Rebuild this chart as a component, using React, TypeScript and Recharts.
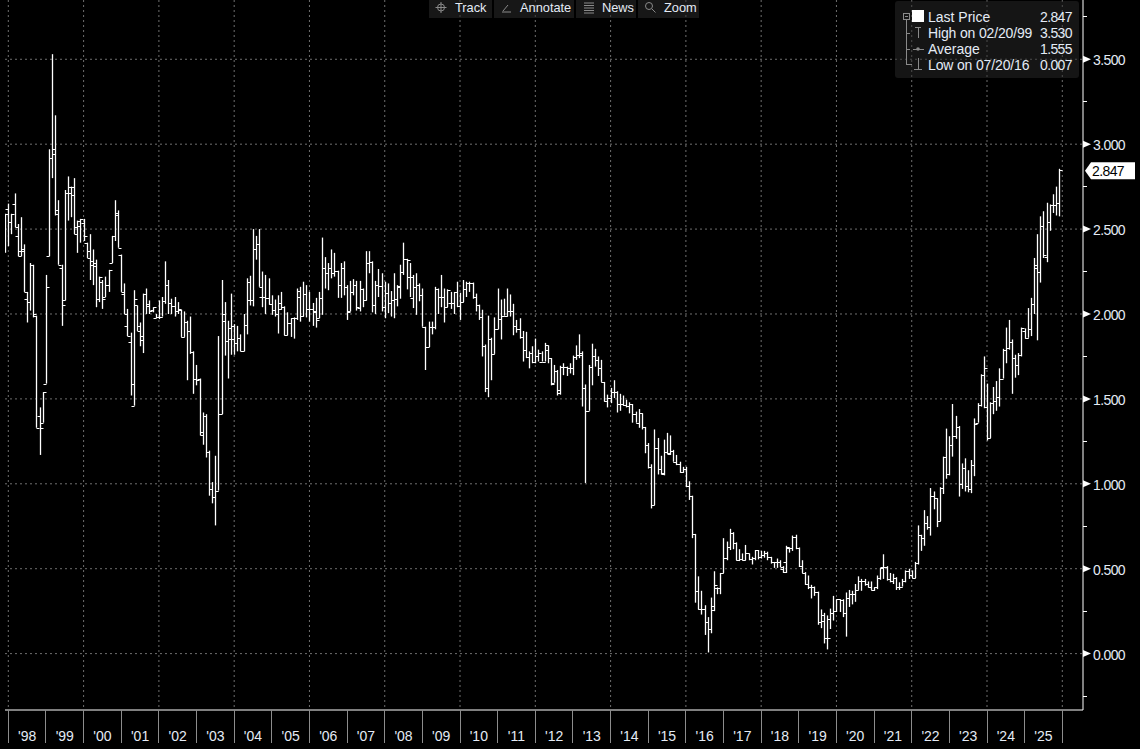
import { Bar, CartesianGrid, ComposedChart, XAxis, YAxis } from 'recharts';

// monthly OHLC, Nov '97 to Nov '25
const highs = [
  2.59, 2.65, 2.59, 2.71, 2.53, 2.57, 2.41, 2.13, 2.30, 2.29,
  1.99, 1.45, 1.54, 2.23, 2.97, 3.53, 3.17, 2.67, 2.29, 2.73,
  2.81, 2.75, 2.80, 2.55, 2.56, 2.56, 2.42, 2.47, 2.38, 2.32,
  2.22, 2.20, 2.22, 2.26, 2.46, 2.67, 2.61, 2.35, 2.18, 2.03,
  1.89, 2.14, 2.05, 1.95, 2.12, 2.15, 2.08, 2.04, 2.00, 2.08,
  2.10, 2.31, 2.20, 2.09, 2.10, 2.07, 2.025, 2.015, 1.96, 1.985,
  1.78, 1.70, 1.62, 1.42, 1.41, 1.195, 1.01, 1.165, 1.87, 2.20,
  2.07, 1.96, 2.12, 1.94, 1.93, 1.88, 2.00, 2.21, 2.225, 2.50,
  2.46, 2.50, 2.25, 2.23, 2.21, 2.11, 2.085, 2.11, 2.13, 2.045,
  2.01, 1.975, 1.98, 2.15, 2.16, 2.19, 2.17, 2.13, 2.065, 2.095,
  2.13, 2.45, 2.335, 2.30, 2.38, 2.36, 2.255, 2.30, 2.31, 2.17,
  2.195, 2.205, 2.195, 2.195, 2.15, 2.37, 2.37, 2.31, 2.195, 2.265,
  2.24, 2.19, 2.18, 2.135, 2.24, 2.17, 2.29, 2.42, 2.325, 2.30,
  2.23, 2.24, 2.18, 2.15, 1.925, 1.955, 1.955, 2.16, 2.15, 2.23,
  2.15, 2.145, 2.13, 2.13, 2.19, 2.125, 2.20, 2.19, 2.19, 2.185,
  2.12, 2.055, 2.025, 1.82, 1.99, 1.86, 1.98, 2.15, 2.085, 2.09,
  2.15, 2.115, 2.06, 1.965, 1.975, 1.90, 1.895, 1.78, 1.81, 1.855,
  1.79, 1.78, 1.83, 1.815, 1.74, 1.70, 1.67, 1.695, 1.71, 1.69,
  1.71, 1.755, 1.815, 1.88, 1.78, 1.585, 1.70, 1.825, 1.795, 1.75,
  1.73, 1.60, 1.525, 1.565, 1.61, 1.545, 1.53, 1.52, 1.495, 1.48,
  1.47, 1.425, 1.44, 1.415, 1.335, 1.24, 1.115, 1.32, 1.27, 1.165,
  1.26, 1.30, 1.285, 1.20, 1.17, 1.13, 1.10, 1.10, 1.015, 0.93,
  0.705, 0.455, 0.37, 0.285, 0.215, 0.33, 0.485, 0.39, 0.475, 0.68,
  0.66, 0.735, 0.715, 0.655, 0.615, 0.59, 0.64, 0.59, 0.57, 0.61,
  0.61, 0.605, 0.605, 0.60, 0.57, 0.54, 0.56, 0.55, 0.515, 0.635,
  0.625, 0.695, 0.70, 0.625, 0.55, 0.48, 0.46, 0.405, 0.395, 0.365,
  0.26, 0.24, 0.225, 0.265, 0.34, 0.32, 0.32, 0.32, 0.36, 0.375,
  0.37, 0.41, 0.455, 0.44, 0.44, 0.425, 0.425, 0.39, 0.46, 0.505,
  0.585, 0.515, 0.475, 0.47, 0.45, 0.42, 0.44, 0.49, 0.50, 0.49,
  0.54, 0.755, 0.70, 0.845, 0.81, 0.975, 0.955, 0.915, 0.98, 1.16,
  1.325, 1.28, 1.47, 1.40, 1.34, 1.12, 1.15, 1.08, 1.14, 1.385,
  1.475, 1.645, 1.75, 1.59, 1.48, 1.57, 1.605, 1.68, 1.795, 1.92,
  1.965, 1.85, 1.76, 1.77, 1.92, 1.915, 2.035, 2.095, 2.33, 2.47,
  2.575, 2.605, 2.655, 2.645, 2.705, 2.75, 2.855,
];

const lows = [
  2.36, 2.40, 2.47, 2.51, 2.34, 2.34, 2.13, 1.95, 2.02, 1.98,
  1.33, 1.17, 1.36, 1.59, 2.34, 2.80, 2.58, 2.29, 1.93, 2.08,
  2.55, 2.57, 2.47, 2.36, 2.42, 2.43, 2.33, 2.20, 2.17, 2.04,
  2.07, 2.03, 2.10, 2.13, 2.30, 2.43, 2.39, 2.13, 2.00, 1.87,
  1.52, 1.46, 1.90, 1.81, 1.77, 2.00, 2.00, 2.01, 1.975, 1.97,
  1.985, 2.06, 2.00, 2.00, 1.985, 2.00, 1.865, 1.865, 1.61, 1.765,
  1.53, 1.58, 1.285, 1.23, 1.155, 0.93, 0.885, 0.755, 0.96, 1.41,
  1.755, 1.62, 1.76, 1.76, 1.78, 1.78, 1.78, 1.88, 2.05, 2.045,
  2.32, 2.16, 2.04, 2.00, 2.055, 1.995, 1.985, 1.885, 2.025, 1.875,
  1.875, 1.865, 1.855, 1.965, 1.955, 1.985, 1.98, 1.955, 1.93, 1.92,
  1.975, 1.995, 2.15, 2.14, 2.21, 2.22, 2.095, 2.095, 2.11, 1.965,
  2.015, 2.11, 2.02, 2.015, 2.04, 2.08, 2.24, 2.01, 2.00, 2.10,
  2.015, 1.975, 2.005, 1.985, 1.975, 2.045, 2.09, 2.23, 2.145, 2.10,
  2.035, 1.995, 2.075, 1.925, 1.67, 1.805, 1.88, 1.91, 2.00, 2.04,
  1.95, 2.04, 2.03, 2.00, 2.04, 1.965, 2.07, 2.10, 2.13, 2.09,
  2.015, 1.965, 1.75, 1.54, 1.51, 1.61, 1.765, 1.91, 1.85, 1.99,
  1.985, 1.985, 1.875, 1.89, 1.855, 1.72, 1.74, 1.68, 1.71, 1.71,
  1.72, 1.72, 1.72, 1.71, 1.58, 1.595, 1.52, 1.525, 1.64, 1.635,
  1.65, 1.64, 1.73, 1.74, 1.455, 1.005, 1.43, 1.58, 1.69, 1.635,
  1.60, 1.485, 1.45, 1.475, 1.505, 1.42, 1.43, 1.46, 1.45, 1.415,
  1.36, 1.36, 1.33, 1.32, 1.18, 1.09, 0.855, 0.875, 1.055, 1.055,
  1.05, 1.175, 1.17, 1.13, 1.11, 1.065, 1.065, 0.98, 0.905, 0.68,
  0.30, 0.26, 0.23, 0.11, 0.007, 0.12, 0.25, 0.35, 0.35, 0.475,
  0.55, 0.61, 0.615, 0.55, 0.545, 0.55, 0.55, 0.55, 0.525, 0.55,
  0.555, 0.56, 0.565, 0.55, 0.53, 0.505, 0.505, 0.51, 0.475, 0.475,
  0.595, 0.605, 0.615, 0.51, 0.475, 0.405, 0.38, 0.325, 0.34, 0.17,
  0.15, 0.06, 0.025, 0.145, 0.195, 0.245, 0.245, 0.215, 0.10, 0.275,
  0.29, 0.305, 0.375, 0.37, 0.40, 0.39, 0.375, 0.37, 0.38, 0.435,
  0.44, 0.43, 0.42, 0.41, 0.375, 0.375, 0.395, 0.42, 0.44, 0.445,
  0.445, 0.525, 0.605, 0.635, 0.73, 0.695, 0.85, 0.745, 0.78, 0.94,
  1.03, 1.05, 1.16, 1.265, 0.925, 0.97, 0.955, 0.95, 0.945, 1.045,
  1.36, 1.455, 1.445, 1.255, 1.27, 1.41, 1.43, 1.455, 1.62, 1.71,
  1.79, 1.53, 1.625, 1.64, 1.75, 1.855, 1.86, 1.87, 2.00, 1.845,
  2.185, 2.33, 2.305, 2.49, 2.595, 2.58, 2.575,
];

const opens = [
  2.50, 2.62, 2.54, 2.65, 2.46, 2.34, 2.37, 2.09, 2.07, 2.29,
  1.99, 1.40, 1.36, 1.59, 2.34, 2.92, 2.94, 2.61, 2.27, 2.08,
  2.71, 2.71, 2.75, 2.51, 2.52, 2.535, 2.42, 2.33, 2.31, 2.30,
  2.09, 2.19, 2.10, 2.17, 2.30, 2.46, 2.585, 2.35, 2.12, 1.93,
  1.835, 1.46, 2.05, 1.93, 1.87, 2.12, 2.045, 2.025, 1.975, 1.98,
  1.985, 2.075, 2.17, 2.065, 2.045, 2.02, 2.025, 1.865, 1.955, 1.90,
  1.775, 1.62, 1.62, 1.305, 1.40, 1.19, 0.97, 0.92, 0.96, 1.41,
  1.96, 1.84, 1.85, 1.85, 1.83, 1.86, 1.78, 1.935, 2.08, 2.08,
  2.38, 2.41, 2.10, 2.10, 2.095, 2.06, 2.025, 2.00, 2.03, 2.04,
  1.875, 1.945, 1.975, 1.975, 2.135, 1.99, 2.12, 2.03, 2.03, 2.01,
  1.975, 2.095, 2.27, 2.24, 2.27, 2.24, 2.255, 2.17, 2.27, 2.16,
  2.015, 2.13, 2.17, 2.035, 2.15, 2.08, 2.30, 2.305, 2.055, 2.17,
  2.165, 2.04, 2.125, 2.065, 2.085, 2.09, 2.16, 2.25, 2.325, 2.22,
  2.095, 2.16, 2.17, 2.11, 1.925, 1.805, 1.925, 1.925, 2.15, 2.10,
  2.10, 2.04, 2.065, 2.065, 2.13, 2.045, 2.07, 2.15, 2.18, 2.18,
  2.10, 2.055, 1.98, 1.81, 1.565, 1.855, 1.765, 1.91, 1.97, 1.99,
  1.99, 2.02, 2.015, 1.93, 1.91, 1.865, 1.79, 1.745, 1.77, 1.72,
  1.755, 1.72, 1.72, 1.815, 1.74, 1.595, 1.665, 1.555, 1.685, 1.685,
  1.68, 1.68, 1.745, 1.76, 1.77, 1.565, 1.43, 1.69, 1.755, 1.73,
  1.68, 1.60, 1.49, 1.505, 1.54, 1.54, 1.47, 1.47, 1.465, 1.46,
  1.47, 1.41, 1.36, 1.415, 1.335, 1.23, 1.10, 0.875, 1.21, 1.09,
  1.06, 1.185, 1.175, 1.195, 1.13, 1.115, 1.07, 1.09, 0.985, 0.93,
  0.705, 0.37, 0.26, 0.265, 0.185, 0.145, 0.28, 0.385, 0.385, 0.475,
  0.565, 0.63, 0.71, 0.65, 0.55, 0.555, 0.55, 0.59, 0.56, 0.565,
  0.61, 0.57, 0.58, 0.595, 0.57, 0.54, 0.54, 0.54, 0.50, 0.54,
  0.62, 0.62, 0.685, 0.62, 0.515, 0.475, 0.41, 0.39, 0.39, 0.365,
  0.185, 0.23, 0.09, 0.205, 0.24, 0.25, 0.32, 0.315, 0.24, 0.33,
  0.35, 0.35, 0.375, 0.425, 0.425, 0.41, 0.395, 0.375, 0.39, 0.445,
  0.51, 0.51, 0.44, 0.43, 0.445, 0.395, 0.395, 0.43, 0.485, 0.465,
  0.445, 0.535, 0.70, 0.68, 0.77, 0.745, 0.93, 0.915, 0.78, 0.975,
  1.16, 1.06, 1.23, 1.28, 1.335, 1.00, 1.095, 0.985, 0.97, 1.11,
  1.36, 1.465, 1.64, 1.455, 1.27, 1.475, 1.49, 1.51, 1.62, 1.79,
  1.80, 1.835, 1.74, 1.70, 1.76, 1.90, 1.86, 1.91, 2.06, 2.27,
  2.25, 2.52, 2.335, 2.54, 2.64, 2.64, 2.655,
];

const closes = [
  2.59, 2.54, 2.59, 2.51, 2.37, 2.38, 2.13, 2.07, 2.29, 2.00,
  1.33, 1.33, 1.54, 2.16, 2.92, 2.97, 2.59, 2.29, 2.05, 2.71,
  2.75, 2.70, 2.47, 2.55, 2.56, 2.46, 2.37, 2.29, 2.28, 2.09,
  2.22, 2.09, 2.17, 2.26, 2.46, 2.595, 2.39, 2.13, 2.00, 1.87,
  1.59, 2.09, 1.90, 1.845, 2.12, 2.06, 2.02, 2.04, 1.985, 1.98,
  2.075, 2.17, 2.065, 2.045, 2.02, 2.03, 1.865, 1.955, 1.90, 1.775,
  1.62, 1.61, 1.29, 1.40, 1.19, 0.97, 0.92, 0.96, 1.41, 2.00,
  1.84, 1.92, 1.93, 1.83, 1.86, 1.78, 1.935, 2.19, 2.08, 2.38,
  2.41, 2.16, 2.10, 2.095, 2.06, 2.025, 2.00, 2.065, 2.04, 1.875,
  1.945, 1.975, 1.975, 2.10, 1.99, 2.12, 2.03, 2.03, 2.015, 1.965,
  2.095, 2.27, 2.24, 2.27, 2.24, 2.255, 2.17, 2.27, 2.16, 2.01,
  2.13, 2.17, 2.04, 2.15, 2.08, 2.30, 2.305, 2.055, 2.17, 2.165,
  2.04, 2.125, 2.065, 2.085, 2.09, 2.165, 2.25, 2.325, 2.315, 2.22,
  2.16, 2.17, 2.11, 1.925, 1.805, 1.925, 1.925, 2.15, 2.10, 2.10,
  2.04, 2.14, 2.065, 2.13, 2.045, 2.07, 2.15, 2.18, 2.18, 2.10,
  2.055, 1.98, 1.81, 1.565, 1.855, 1.765, 1.91, 1.97, 1.99, 1.99,
  2.02, 2.015, 1.93, 1.91, 1.865, 1.79, 1.745, 1.77, 1.72, 1.755,
  1.77, 1.72, 1.79, 1.74, 1.59, 1.665, 1.535, 1.685, 1.685, 1.68,
  1.68, 1.745, 1.76, 1.76, 1.565, 1.43, 1.69, 1.755, 1.73, 1.68,
  1.60, 1.49, 1.505, 1.54, 1.54, 1.47, 1.47, 1.465, 1.46, 1.47,
  1.41, 1.36, 1.415, 1.335, 1.23, 1.10, 0.875, 1.21, 1.09, 1.065,
  1.185, 1.18, 1.195, 1.13, 1.115, 1.07, 1.09, 0.985, 0.93, 0.705,
  0.37, 0.26, 0.265, 0.185, 0.145, 0.255, 0.405, 0.385, 0.475, 0.565,
  0.63, 0.71, 0.65, 0.55, 0.555, 0.55, 0.59, 0.56, 0.565, 0.61,
  0.57, 0.58, 0.595, 0.57, 0.54, 0.54, 0.54, 0.51, 0.48, 0.625,
  0.62, 0.685, 0.62, 0.515, 0.475, 0.41, 0.39, 0.39, 0.365, 0.185,
  0.195, 0.09, 0.09, 0.24, 0.25, 0.32, 0.315, 0.24, 0.33, 0.35,
  0.35, 0.375, 0.425, 0.425, 0.41, 0.395, 0.375, 0.39, 0.445, 0.505,
  0.51, 0.44, 0.43, 0.445, 0.395, 0.395, 0.43, 0.485, 0.465, 0.445,
  0.535, 0.70, 0.68, 0.77, 0.745, 0.93, 0.915, 0.78, 0.975, 1.16,
  1.06, 1.23, 1.28, 1.335, 1.00, 1.095, 0.985, 0.97, 1.11, 1.355,
  1.465, 1.64, 1.68, 1.27, 1.475, 1.49, 1.51, 1.615, 1.79, 1.80,
  1.835, 1.74, 1.70, 1.76, 1.915, 1.86, 1.91, 2.06, 2.29, 2.25,
  2.52, 2.35, 2.54, 2.64, 2.64, 2.655, 2.847,
];

const yearLabels = [
  "'98", "'99", "'00", "'01", "'02", "'03", "'04", "'05", "'06", "'07",
  "'08", "'09", "'10", "'11", "'12", "'13", "'14", "'15", "'16", "'17",
  "'18", "'19", "'20", "'21", "'22", "'23", "'24", "'25",
];

// month index of each January boundary, one more than there are labels
const yearTicks = [...yearLabels, ''].map((_, k) => 1 + 12 * k);
const priceTicks = [-0.25, 0, 0.25, 0.5, 0.75, 1, 1.25, 1.5, 1.75, 2, 2.25, 2.5, 2.75, 3, 3.25, 3.5, 3.75];
const lastPrice = 2.847;

const legendRows = [
  ['Last Price', '2.847'],
  ['High on 02/20/99', '3.530'],
  ['Average', '1.555'],
  ['Low on 07/20/16', '0.007'],
];

const toolbarButtons = [
  { label: 'Track', x: 429, w: 63, tx: 455 },
  { label: 'Annotate', x: 494, w: 80, tx: 520 },
  { label: 'News', x: 576, w: 60, tx: 602 },
  { label: 'Zoom', x: 638, w: 61, tx: 664 },
];

const data = highs.map((high, i) => ({
  i,
  range: [lows[i], high],
  high,
  low: lows[i],
  open: opens[i],
  close: closes[i],
}));

const FONT = '"Liberation Sans", Arial, sans-serif';
const TEXT = '#e4ebf5';
const GRID = '#6f6f6f';

// one OHLC mark: stem from high to low, open to the left, close to the right
function OhlcBar(props: any) {
  const { x, y, width, height, payload } = props;
  const top = height < 0 ? y + height : y;
  const h = Math.abs(height);
  const cx = Math.round(x + width / 2) + 0.5;
  const perUnit = h / (payload.high - payload.low);
  const yOpen = Math.round(top + (payload.high - payload.open) * perUnit) + 0.5;
  const yClose = Math.round(top + (payload.high - payload.close) * perUnit) + 0.5;
  return (
    <g stroke="#ffffff">
      <line x1={cx} x2={cx} y1={top} y2={top + h} strokeWidth={1.3} />
      <line x1={cx - 3} x2={cx} y1={yOpen} y2={yOpen} strokeWidth={1} />
      <line x1={cx} x2={cx + 3} y1={yClose} y2={yClose} strokeWidth={1} />
    </g>
  );
}

function YearTick(props: any) {
  const { x, y, index } = props;
  const label = yearLabels[index];
  return (
    <g>
      <line x1={x} x2={x} y1={y} y2={y + 33} stroke="#8c8c8c" shapeRendering="crispEdges" />
      {label && (
        <text x={x + 18.8} y={y + 31} textAnchor="middle" fontFamily={FONT} fontSize={14} fill={TEXT}>
          {label}
        </text>
      )}
    </g>
  );
}

function PriceTick(props: any) {
  const { y, payload } = props;
  const axisX = 1083;
  const value = payload.value;
  if (value === lastPrice) {
    return (
      <g>
        <polygon
          points={`${axisX + 2},${y + 0.5} ${axisX + 8},${y - 8} ${axisX + 52},${y - 8} ${axisX + 52},${y + 9} ${axisX + 8},${y + 9}`}
          fill="#ffffff"
        />
        <text x={axisX + 9} y={y + 6} fontFamily={FONT} fontSize={14} letterSpacing={-0.6} fill="#000000">
          {value.toFixed(3)}
        </text>
      </g>
    );
  }
  if (value % 0.5 !== 0) {
    return <line x1={axisX} x2={axisX + 4} y1={y} y2={y} stroke="#ffffff" shapeRendering="crispEdges" />;
  }
  return (
    <g>
      <polygon points={`${axisX},${y - 3.5} ${axisX + 8},${y} ${axisX},${y + 3.5}`} fill="#ffffff" />
      <text x={axisX + 10} y={y + 6} fontFamily={FONT} fontSize={14} letterSpacing={-0.6} fill={TEXT}>
        {value.toFixed(3)}
      </text>
    </g>
  );
}

function Overlay() {
  const rowY = [22, 38, 54, 70];
  return (
    <svg width={1140} height={749} style={{ position: 'absolute', left: 0, top: 0 }}>
      {toolbarButtons.map((b) => (
        <g key={b.label}>
          <rect x={b.x} y={0} width={b.w} height={18} fill="#2a2a2a" fillOpacity={0.55} />
          <text x={b.tx} y={12} fontFamily={FONT} fontSize={12.8} fill={TEXT}>
            {b.label}
          </text>
        </g>
      ))}
      {/* toolbar icons */}
      <g stroke="#8a8a8a" fill="none">
        <circle cx={441} cy={7.5} r={3.5} />
        <path d="M441 2v11M435.5 7.5h11" />
        <path d="M502 12h9M503 11l5-6" />
        <path d="M584 3h10M584 5.5h10M584 8h10M584 10.5h10M584 13h10" />
        <circle cx={649} cy={6} r={3.5} />
        <path d="M652 9l3.5 3.5" />
      </g>

      <rect x={895} y={1} width={184} height={77} rx={3} fill="#2a2a2a" fillOpacity={0.5} />
      <rect x={912} y={10} width={12} height={12} fill="#ffffff" />
      <g stroke="#8a8a8a" fill="none" shapeRendering="crispEdges">
        <rect x={903} y={13} width={6} height={6} />
        <path d="M904.5 16h3M906 19v45h6M906 33h4M906 49h4" />
        <path d="M915 27h6M918 27v11" />
        <path d="M913 49h11" />
        <path d="M918 58v11M914 69h8" />
      </g>
      <circle cx={918} cy={49} r={1.8} fill="#8a8a8a" />
      {legendRows.map(([name, value], i) => (
        <g key={name} fontFamily={FONT} fontSize={14} fill={TEXT}>
          <text x={928} y={rowY[i]} letterSpacing={i % 2 ? -0.15 : 0}>{name}</text>
          <text x={1072} y={rowY[i]} textAnchor="end" letterSpacing={-0.6}>{value}</text>
        </g>
      ))}
    </svg>
  );
}

export default function App() {
  return (
    <div style={{ position: 'absolute', left: 0, top: 0, width: 1140, height: 749, background: '#000', overflow: 'hidden' }}>
      <ComposedChart
        width={1140}
        height={749}
        data={data}
        margin={{ top: 0, right: 0, bottom: 0, left: 5 }}
      >
        <CartesianGrid
          stroke={GRID}
          strokeDasharray="2 3"
          horizontalValues={[0, 0.5, 1, 1.5, 2, 2.5, 3, 3.5]}
          verticalValues={yearTicks.filter((_, k) => k % 2 === 0)}
        />
        <XAxis
          dataKey="i"
          type="number"
          domain={[-0.06, 343.6]}
          ticks={yearTicks}
          interval={0}
          height={39}
          axisLine={{ stroke: '#ffffff' }}
          tickLine={false}
          tickMargin={0}
          tickSize={0}
          tick={<YearTick />}
          allowDataOverflow
        />
        <YAxis
          orientation="right"
          domain={[-0.332, 3.849]}
          ticks={[...priceTicks, lastPrice]}
          interval={0}
          width={57}
          axisLine={{ stroke: '#ffffff' }}
          tickLine={false}
          tick={<PriceTick />}
          allowDataOverflow
        />
        <Bar dataKey="range" barSize={3} shape={<OhlcBar />} isAnimationActive={false} />
      </ComposedChart>
      <Overlay />
    </div>
  );
}
